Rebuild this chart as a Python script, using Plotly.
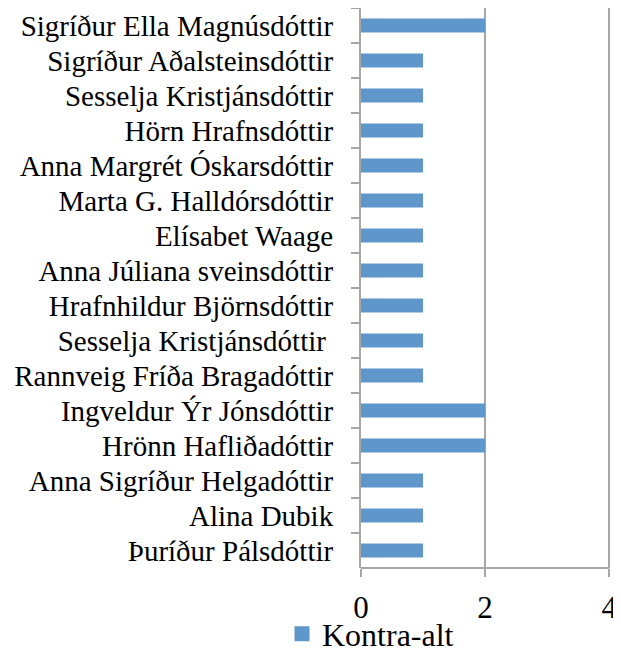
import plotly.graph_objects as go

categories = [
    "Sigríður Ella Magnúsdóttir",
    "Sigríður Aðalsteinsdóttir",
    "Sesselja Kristjánsdóttir",
    "Hörn Hrafnsdóttir",
    "Anna Margrét Óskarsdóttir",
    "Marta G. Halldórsdóttir",
    "Elísabet Waage",
    "Anna Júliana sveinsdóttir",
    "Hrafnhildur Björnsdóttir",
    "Sesselja Kristjánsdóttir ",
    "Rannveig Fríða Bragadóttir",
    "Ingveldur Ýr Jónsdóttir",
    "Hrönn Hafliðadóttir",
    "Anna Sigríður Helgadóttir",
    "Alina Dubik",
    "Þuríður Pálsdóttir",
]
values = [2, 1, 1, 1, 1, 1, 1, 1, 1, 1, 1, 2, 2, 1, 1, 1]
series_name = "Kontra-alt"
x_ticks = [0, 2, 4]

font = "'Liberation Serif', 'Times New Roman', Times, serif"
bar_color = "#6097CB"
grid = "#A6A6A6"

fig = go.Figure()
fig.add_trace(go.Bar(
    x=values, y=categories, orientation="h", name=series_name,
    marker=dict(color=bar_color, line=dict(width=0)), width=0.4,
    showlegend=False,
))
fig.add_trace(go.Scatter(
    x=[None], y=[None], mode="markers", name=series_name,
    marker=dict(symbol="square", size=15, color=bar_color), showlegend=True,
))

fig.update_layout(
    width=613, height=642,
    margin=dict(l=353, r=10, t=0, b=82),
    paper_bgcolor="white", plot_bgcolor="white",
    font=dict(family=font, size=29, color="black"),
    legend=dict(orientation="h", xref="container", yref="container",
                x=0.447, xanchor="left", y=0.025, yanchor="middle",
                bgcolor="rgba(0,0,0,0)",
                font=dict(family=font, size=32), itemwidth=30, tracegroupgap=0),
    xaxis=dict(range=[0, 4.03], tickvals=x_ticks, showgrid=True, gridcolor=grid,
               gridwidth=2, zeroline=False, showline=False,
               ticks="outside", ticklen=8, tickcolor=grid, tickwidth=2,
               tickfont=dict(family=font, size=31), ticklabelstandoff=4,
               automargin=False, fixedrange=True),
    yaxis=dict(autorange="reversed", showline=True, linecolor=grid, linewidth=2,
               tickmode="linear", tick0=0, dtick=1,
               ticks="outside", ticklen=8, tickcolor=grid, tickwidth=2,
               tickson="boundaries", ticklabelstandoff=20,
               tickfont=dict(family=font, size=29), showgrid=False, automargin=False),
    shapes=[dict(type="line", xref="x", yref="paper", x0=0, x1=4.0, y0=0, y1=0,
                 line=dict(color=grid, width=2))],
)

fig.write_html("out.html")
